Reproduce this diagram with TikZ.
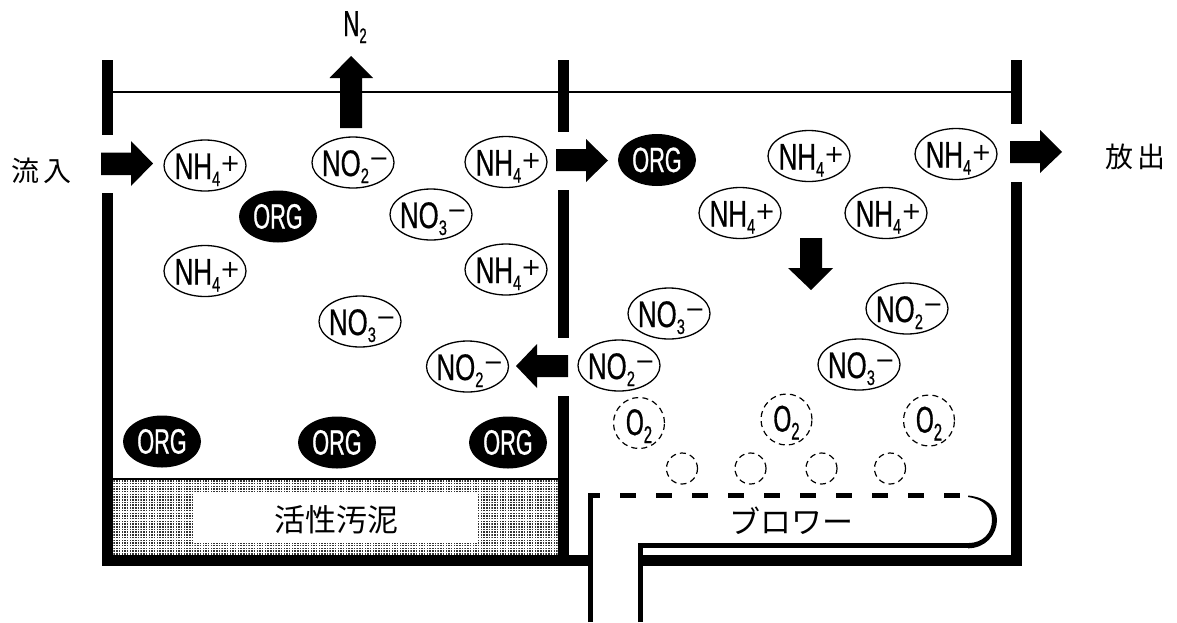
\documentclass[tikz,border=0pt]{standalone}
\usepackage{fontspec}
\usetikzlibrary{shapes.geometric,patterns}
\setmainfont{Liberation Sans}
\newfontfamily\ionfont[FakeStretch=0.7,FakeBold=0.4]{Liberation Sans}
\newfontfamily\orgfont[FakeStretch=0.62,FakeBold=0.8]{Liberation Sans}
\newfontfamily\signfont{DejaVu Sans}
\newfontfamily\jp{Noto Sans CJK JP}
\newcommand{\ionlabel}[4]{\smash{\raisebox{-13.5pt}{\makebox[0pt][c]{\ionfont\fontsize{37}{37}\selectfont\kern5pt #1\raisebox{-7pt}{\fontsize{21}{21}\selectfont #2}\raisebox{#4}{\signfont\fontsize{24}{24}\selectfont #3}}}}}
\newcommand{\ionplus}[2]{\ionlabel{#1}{#2}{+}{7.5pt}}
\newcommand{\ionminus}[2]{\ionlabel{#1}{#2}{−}{10pt}}
\newcommand{\orglabel}{\smash{\raisebox{-12pt}{\makebox[0pt][c]{\orgfont\fontsize{35}{35}\selectfont ORG}}}}
\newcommand{\oxlabel}{\smash{\raisebox{-12pt}{\makebox[0pt][c]{\orgfont\fontsize{37}{37}\selectfont O\raisebox{-8pt}{\fontsize{24}{24}\selectfont 2}}}}}
\pgfdeclarepatternformonly{sludgedots}{\pgfqpoint{-0.1pt}{-0.1pt}}{\pgfqpoint{3pt}{3pt}}{\pgfqpoint{2.7pt}{2.7pt}}{%
  \pgfpathrectangle{\pgfqpoint{0pt}{0pt}}{\pgfqpoint{1.5pt}{1.5pt}}\pgfusepath{fill}}
\tikzset{
  wall/.style={fill=black},
  blockarrow/.style={fill=black},
  ion/.style={draw=black,line width=1.3pt,fill=white,ellipse,inner sep=0pt,minimum width=82pt,minimum height=51pt},
  org/.style={fill=black,ellipse,inner sep=0pt,minimum width=78pt,minimum height=52pt,text=white},
  bubble/.style={draw=black,line width=1.2pt,dash pattern=on 6pt off 4.2pt,circle,inner sep=0pt},
  pipe/.style={line width=5.2pt,draw=black},
  jptext/.style={inner sep=0pt,font=\jp}
}
\begin{document}
\begin{tikzpicture}[x=1pt,y=-1pt]
\useasboundingbox (0,0) rectangle (1177,622);
% sludge
\fill[pattern=sludgedots,pattern color=black!80] (113,480) rectangle (557.5,555);
\fill[white] (193,493) rectangle (478,543);
\draw[line width=1.5pt] (113,479) -- (557.5,479);
\node[jptext] (sludge) at (336,520) {\fontsize{31}{31}\selectfont 活性汚泥};
% water line
\draw[line width=1.3pt] (113,92) -- (1011,92);
% walls
\fill[wall] (102,60) rectangle (113,135);
\fill[wall] (102,193) rectangle (113,566);
\fill[wall] (557.5,60) rectangle (568.5,132);
\fill[wall] (557.5,190) rectangle (568.5,338);
\fill[wall] (557.5,396) rectangle (568.5,560);
\fill[wall] (1011,60) rectangle (1022,124);
\fill[wall] (1011,182) rectangle (1022,566);
\fill[wall] (102,555) rectangle (588,566);
\fill[wall] (640,555) rectangle (1022,566);
% block arrows
\fill[blockarrow] (101,152.5) -- (131,152.5) -- (131,141) -- (153,163.5) -- (131,186) -- (131,175) -- (101,175) -- cycle;
\fill[blockarrow] (340,128) -- (340,78) -- (329.5,78) -- (351,56) -- (373,78) -- (362,78) -- (362,128) -- cycle;
\fill[blockarrow] (556,149) -- (586,149) -- (586,139) -- (608,160.5) -- (586,182) -- (586,171) -- (556,171) -- cycle;
\fill[blockarrow] (1010,141) -- (1040,141) -- (1040,130) -- (1062,152) -- (1040,173) -- (1040,163) -- (1010,163) -- cycle;
\fill[blockarrow] (568,355) -- (537,355) -- (537,344) -- (516,366) -- (537,388) -- (537,377) -- (568,377) -- cycle;
\fill[blockarrow] (800,238) -- (822,238) -- (822,268) -- (833,268) -- (811,290) -- (788,268) -- (800,268) -- cycle;
% ions, left tank
\node[ion] (a1) at (205,165.5) {\ionplus{NH}{4}};
\node[ion] (a2) at (353,162.5) {\ionminus{NO}{2}};
\node[ion] (a3) at (506,162) {\ionplus{NH}{4}};
\node[ion] (a4) at (431,214.5) {\ionminus{NO}{3}};
\node[ion] (a5) at (205,271) {\ionplus{NH}{4}};
\node[ion] (a6) at (506,269.5) {\ionplus{NH}{4}};
\node[ion] (a7) at (360,321.5) {\ionminus{NO}{3}};
\node[ion] (a8) at (467.5,366.5) {\ionminus{NO}{2}};
\node[org] (o1) at (278,216.5) {\orglabel};
\node[org] (o2) at (162,441.5) {\orglabel};
\node[org] (o3) at (337,442.5) {\orglabel};
\node[org] (o4) at (508,442.5) {\orglabel};
% ions, right tank
\node[org] (o5) at (657,160) {\orglabel};
\node[ion] (b1) at (809,156) {\ionplus{NH}{4}};
\node[ion] (b2) at (956,154) {\ionplus{NH}{4}};
\node[ion] (b3) at (740,213) {\ionplus{NH}{4}};
\node[ion] (b4) at (886,213) {\ionplus{NH}{4}};
\node[ion] (b5) at (669,313.5) {\ionminus{NO}{3}};
\node[ion] (b6) at (907,308.5) {\ionminus{NO}{2}};
\node[ion] (b7) at (859,364.5) {\ionminus{NO}{3}};
\node[ion] (b8) at (619,365.5) {\ionminus{NO}{2}};
% bubbles
\node[bubble,minimum size=51pt] (c1) at (639,423) {\oxlabel};
\node[bubble,minimum size=51pt] (c2) at (786.5,419.5) {\oxlabel};
\node[bubble,minimum size=51pt] (c3) at (929,420.5) {\oxlabel};
\node[bubble,minimum size=31pt] (d1) at (682,468.5) {};
\node[bubble,minimum size=31pt] (d2) at (750.5,468.5) {};
\node[bubble,minimum size=31pt] (d3) at (821.5,468.5) {};
\node[bubble,minimum size=31pt] (d4) at (890,468.5) {};
% blower pipe
\draw[pipe] (590.5,622) -- (590.5,495.5) -- (600,495.5);
\draw[pipe,dash pattern=on 16pt off 20pt] (620,495.5) -- (960,495.5);
\draw[pipe] (640.5,622) -- (640.5,545.7) -- (968,545.7);
\fill[black] (968,495.5) .. controls (985,497) and (997,506) .. (997,520) .. controls (997,535) and (985,548.3) .. (968,548.3) -- (968,543.1) .. controls (983,543) and (992,533) .. (992,520) .. controls (992,507) and (983,499) .. (968,497) -- cycle;
% texts
\node[jptext] (blower) at (791.5,521) {\fontsize{31}{31}\selectfont ブロワー};
\node[jptext] (inflow) at (42,171) {\fontsize{28}{28}\selectfont 流\kern4pt 入};
\node[jptext] (outflow) at (1135.5,157) {\fontsize{28}{28}\selectfont 放\kern4pt 出};
\node[inner sep=0pt] (n2) at (355,24.5) {\smash{\raisebox{-11.5pt}{\makebox[0pt][c]{\orgfont\fontsize{36}{36}\selectfont N\raisebox{-7pt}{\fontsize{21}{21}\selectfont 2}}}}};
\end{tikzpicture}
\end{document}
